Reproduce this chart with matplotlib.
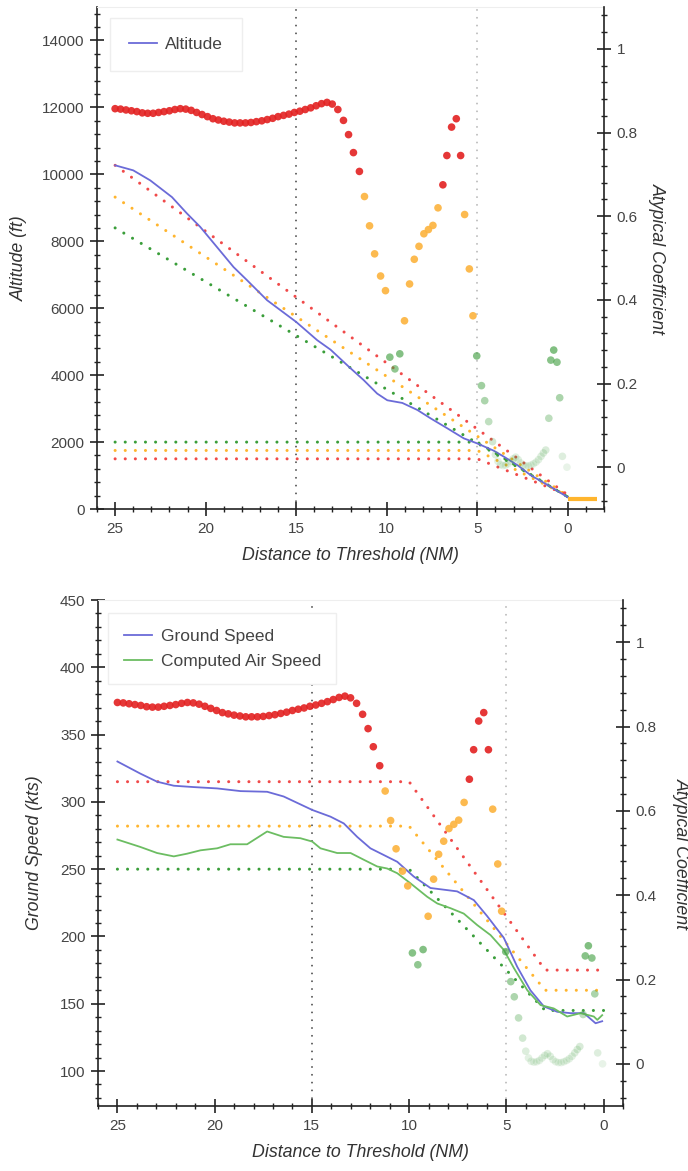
import matplotlib
matplotlib.use('Agg')
from matplotlib import pyplot as plt
from matplotlib.ticker import MultipleLocator, FuncFormatter

plt.rcParams['font.family'] = ['Liberation Sans', 'DejaVu Sans']

# Altitude profile (ft) against distance to threshold (NM).
alt_dist = [25.0, 24.0, 23.06, 21.86, 21.03, 20.3, 19.38, 18.46, 17.72, 16.61, 15.0, 13.84, 13.1,
            12.09, 11.27, 10.53, 9.97, 9.14, 8.31, 7.58, 6.65, 5.74, 5.0, 4.08, 3.52, 2.78, 2.05, 1.12, 0.0]
alt_ft = [10270, 10120, 9820, 9320, 8830, 8430, 7830, 7230, 6840, 6240, 5590, 5045, 4760,
          4250, 3850, 3450, 3250, 3170, 2960, 2710, 2410, 2110, 1960, 1740, 1560, 1310, 1010, 720, 350]

# Runway stub drawn past the threshold.
rwy_dist = [0.0, -1.6]
rwy_ft = [290, 290]

# Ground speed and computed air speed (kts).
gs_dist = [25.0, 23.82, 22.96, 22.10, 21.08, 19.87, 18.67, 17.30, 16.45, 14.98, 14.04, 13.36, 12.67,
           11.99, 11.30, 10.61, 9.76, 8.90, 7.53, 6.67, 5.98, 5.13, 4.44, 3.76, 3.07, 2.38, 1.70,
           1.01, 0.41, 0.07]
gs_kts = [330, 321, 315, 312, 311, 310, 308, 307.5, 304, 294, 289, 284, 274,
          265.5, 260.5, 255.5, 244.5, 236, 233.5, 227, 215, 199, 177.5, 160, 148, 144, 143,
          143, 135.5, 137]
cas_dist = [25.0, 23.82, 22.96, 22.10, 21.42, 20.73, 19.87, 19.19, 18.33, 17.30, 16.45, 15.59, 14.98,
            14.56, 13.70, 13.01, 12.33, 11.64, 11.13, 10.61, 9.93, 9.07, 8.55, 7.87, 7.19, 6.50,
            5.81, 5.13, 4.61, 3.92, 3.24, 2.56, 1.87, 1.18, 0.50, 0.32, 0.07]
cas_kts = [272, 266.5, 262, 259.5, 261.5, 264, 265.5, 268.5, 268.5, 278, 274, 273, 270.5,
           265.5, 262, 262, 257, 252, 250.5, 247, 239.5, 229.5, 224.5, 221, 217, 208.5,
           201, 190, 176.5, 160, 149, 146.5, 140.5, 143, 140.5, 138, 141.5]

# Atypical coefficient, one value per sample.
coef_dist = [25.0, 24.7, 24.4, 24.1, 23.8, 23.5, 23.2, 22.9, 22.6, 22.3, 22.0, 21.7, 21.4, 21.1,
             20.8, 20.5, 20.2, 19.9, 19.6, 19.3, 19.0, 18.7, 18.4, 18.1, 17.8, 17.5, 17.2, 16.9,
             16.6, 16.3, 16.0, 15.7, 15.4, 15.1, 14.8, 14.5, 14.2, 13.9, 13.6, 13.3, 13.01, 12.70,
             12.39, 12.11, 11.84, 11.51, 11.23, 10.95, 10.67, 10.34, 10.07, 9.83, 9.55, 9.28, 9.02,
             8.74, 8.48, 8.22, 7.95, 7.70, 7.45, 7.17, 6.90, 6.68, 6.42, 6.16, 5.92, 5.70, 5.44,
             5.24, 5.03, 4.77, 4.59, 4.37, 4.16, 4.00, 3.86, 3.72, 3.58, 3.44, 3.30, 3.16, 3.02,
             2.88, 2.74, 2.60, 2.46, 2.32, 2.18, 2.04, 1.90, 1.76, 1.62, 1.48, 1.35, 1.22, 1.05,
             0.94, 0.78, 0.60, 0.45, 0.30, 0.05]
coef = [0.857, 0.856, 0.854, 0.852, 0.850, 0.847, 0.846, 0.846, 0.848, 0.850, 0.852, 0.855, 0.857, 0.856,
        0.853, 0.848, 0.843, 0.838, 0.833, 0.830, 0.827, 0.825, 0.823, 0.823, 0.823, 0.824, 0.826, 0.828,
        0.831, 0.834, 0.838, 0.841, 0.844, 0.848, 0.851, 0.855, 0.859, 0.864, 0.869, 0.872, 0.868, 0.855,
        0.829, 0.795, 0.752, 0.707, 0.647, 0.577, 0.510, 0.457, 0.422, 0.263, 0.235, 0.271, 0.350,
        0.438, 0.497, 0.528, 0.558, 0.568, 0.578, 0.620, 0.675, 0.745, 0.813, 0.833, 0.745, 0.604, 0.474,
        0.362, 0.266, 0.195, 0.159, 0.109, 0.061, 0.030, 0.014, 0.006, 0.004, 0.005, 0.008, 0.014, 0.020,
        0.024, 0.018, 0.010, 0.005, 0.003, 0.003, 0.005, 0.008, 0.012, 0.018, 0.026, 0.034, 0.041, 0.117,
        0.256, 0.280, 0.251, 0.166, 0.026, 0.000]

# Altitude envelopes: sloped upper bounds and floor-then-slope lower bounds.
alt_hi_dist = [25, 0]
alt_hi_red = [10270, 420]
alt_hi_orange = [9320, 390]
alt_hi_green = [8400, 360]
alt_lo_dist = [25, 5, 0]
alt_lo_red = [1500, 1500, 420]
alt_lo_orange = [1750, 1750, 390]
alt_lo_green = [2000, 2000, 360]

# Speed envelopes.
spd_env_dist = [25, 10, 3, 0]
spd_env_red = [315, 315, 175, 175]
spd_env_orange = [282, 282, 160, 160]
spd_env_green = [250, 250, 145, 145]

RED = '#f04a4a'
ORANGE = '#ffb52e'
GREEN = '#3a9e3a'
BLUE = '#6b6bd8'
LIGHT_GREEN = '#6cbd62'
TEXT = '#444444'
SPINE = '#222222'


def coef_colours(values):
    cols = []
    for v in values:
        if v >= 2 / 3:
            cols.append((0.89, 0.13, 0.13, 0.9))
        elif v >= 1 / 3:
            cols.append((0.99, 0.70, 0.24, 0.9))
        else:
            cols.append((0.27, 0.63, 0.27, min(1.0, 0.12 + 2.0 * v)))
    return cols


def dotted(ax, x, y, colour):
    # round caps on near-zero dashes give small round dots
    ax.plot(x, y, color=colour, linestyle=(0, (0.01, 3.3)), linewidth=2.2,
            dash_capstyle='round', zorder=2)


def style(ax, ax2, ymajor, yminor):
    ax.xaxis.set_major_locator(MultipleLocator(5))
    ax.xaxis.set_minor_locator(MultipleLocator(1))
    ax.yaxis.set_major_locator(MultipleLocator(ymajor))
    ax.yaxis.set_minor_locator(MultipleLocator(yminor))
    ax2.yaxis.set_major_locator(MultipleLocator(0.2))
    ax2.yaxis.set_minor_locator(MultipleLocator(0.04))
    ax2.yaxis.set_major_formatter(FuncFormatter(lambda v, _: '{:g}'.format(round(v, 2))))
    ax2.set_ylim(-0.1, 1.1)

    for a in (ax, ax2):
        a.tick_params(which='major', direction='inout', length=10, width=1.2, color=SPINE,
                      labelsize=11, labelcolor=TEXT, pad=4)
        a.tick_params(which='minor', direction='inout', length=5, width=1.0, color=SPINE)
        for s in a.spines.values():
            s.set_visible(False)
    ax.spines['left'].set_visible(True)
    ax.spines['bottom'].set_visible(True)
    ax.spines['top'].set_visible(True)
    ax.spines['top'].set_color('#eeeeee')
    ax.spines['left'].set_color(SPINE)
    ax.spines['bottom'].set_color(SPINE)
    ax.spines['left'].set_linewidth(1.2)
    ax.spines['bottom'].set_linewidth(1.2)
    ax2.spines['right'].set_visible(True)
    ax2.spines['right'].set_color(SPINE)
    ax2.spines['right'].set_linewidth(1.2)

    ax.axvline(15, color='#555555', linestyle=(0, (0.01, 4)), linewidth=1.4,
               dash_capstyle='round', zorder=1)
    ax.axvline(5, color='#bbbbbb', linestyle=(0, (0.01, 4)), linewidth=1.4,
               dash_capstyle='round', zorder=1)

    ax.set_xlabel('Distance to Threshold (NM)', fontsize=12.8, style='italic', color='#333333', labelpad=8)
    ax2.set_ylabel('Atypical Coefficient', fontsize=12.8, style='italic', color='#333333',
                   rotation=-90, labelpad=20)

    ax2.scatter(coef_dist, coef, s=30, c=coef_colours(coef), edgecolors='none', zorder=3)


fig = plt.figure(figsize=(6.88, 11.71), dpi=100)

# Top: altitude
ax = fig.add_axes([0.141, 0.5653, 0.737, 0.4287])
ax2 = ax.twinx()
ax.set_xlim(26, -2)
ax.set_ylim(0, 15000)

dotted(ax, alt_hi_dist, alt_hi_red, RED)
dotted(ax, alt_hi_dist, alt_hi_orange, ORANGE)
dotted(ax, alt_hi_dist, alt_hi_green, GREEN)
dotted(ax, alt_lo_dist, alt_lo_red, RED)
dotted(ax, alt_lo_dist, alt_lo_orange, ORANGE)
dotted(ax, alt_lo_dist, alt_lo_green, GREEN)
line_alt, = ax.plot(alt_dist, alt_ft, color=BLUE, linewidth=1.3, label='Altitude', zorder=3)
ax.plot(rwy_dist, rwy_ft, color=ORANGE, linewidth=3, solid_capstyle='butt', zorder=3)

style(ax, ax2, 2000, 400)
ax.set_ylabel('Altitude (ft)', fontsize=12.8, style='italic', color='#333333', labelpad=10)

leg = ax2.legend(handles=[line_alt], loc='upper left', bbox_to_anchor=(0.025, 0.978), borderaxespad=0,
                 fontsize=12.5, frameon=True, fancybox=False, edgecolor='#eeeeee', framealpha=1,
                 borderpad=1.1, handlelength=1.6, handletextpad=0.5)
for t in leg.get_texts():
    t.set_color(TEXT)

# Bottom: speeds
bx = fig.add_axes([0.1424, 0.0555, 0.7631, 0.4321])
bx2 = bx.twinx()
bx.set_xlim(26, -1)
bx.set_ylim(74, 450)

dotted(bx, spd_env_dist, spd_env_red, RED)
dotted(bx, spd_env_dist, spd_env_orange, ORANGE)
dotted(bx, spd_env_dist, spd_env_green, GREEN)
line_gs, = bx.plot(gs_dist, gs_kts, color=BLUE, linewidth=1.3, label='Ground Speed', zorder=3)
line_cas, = bx.plot(cas_dist, cas_kts, color=LIGHT_GREEN, linewidth=1.3, label='Computed Air Speed', zorder=3)

style(bx, bx2, 50, 10)
bx.set_ylabel('Ground Speed (kts)', fontsize=12.8, style='italic', color='#333333', labelpad=12)
bx2.yaxis.labelpad = 24

leg = bx2.legend(handles=[line_gs, line_cas], loc='upper left', bbox_to_anchor=(0.02, 0.974), borderaxespad=0,
                 fontsize=12.5, frameon=True, fancybox=False, edgecolor='#eeeeee', framealpha=1,
                 borderpad=0.9, handlelength=1.6, handletextpad=0.5, labelspacing=0.55)
for t in leg.get_texts():
    t.set_color(TEXT)

fig.savefig('out.png', dpi=100)
